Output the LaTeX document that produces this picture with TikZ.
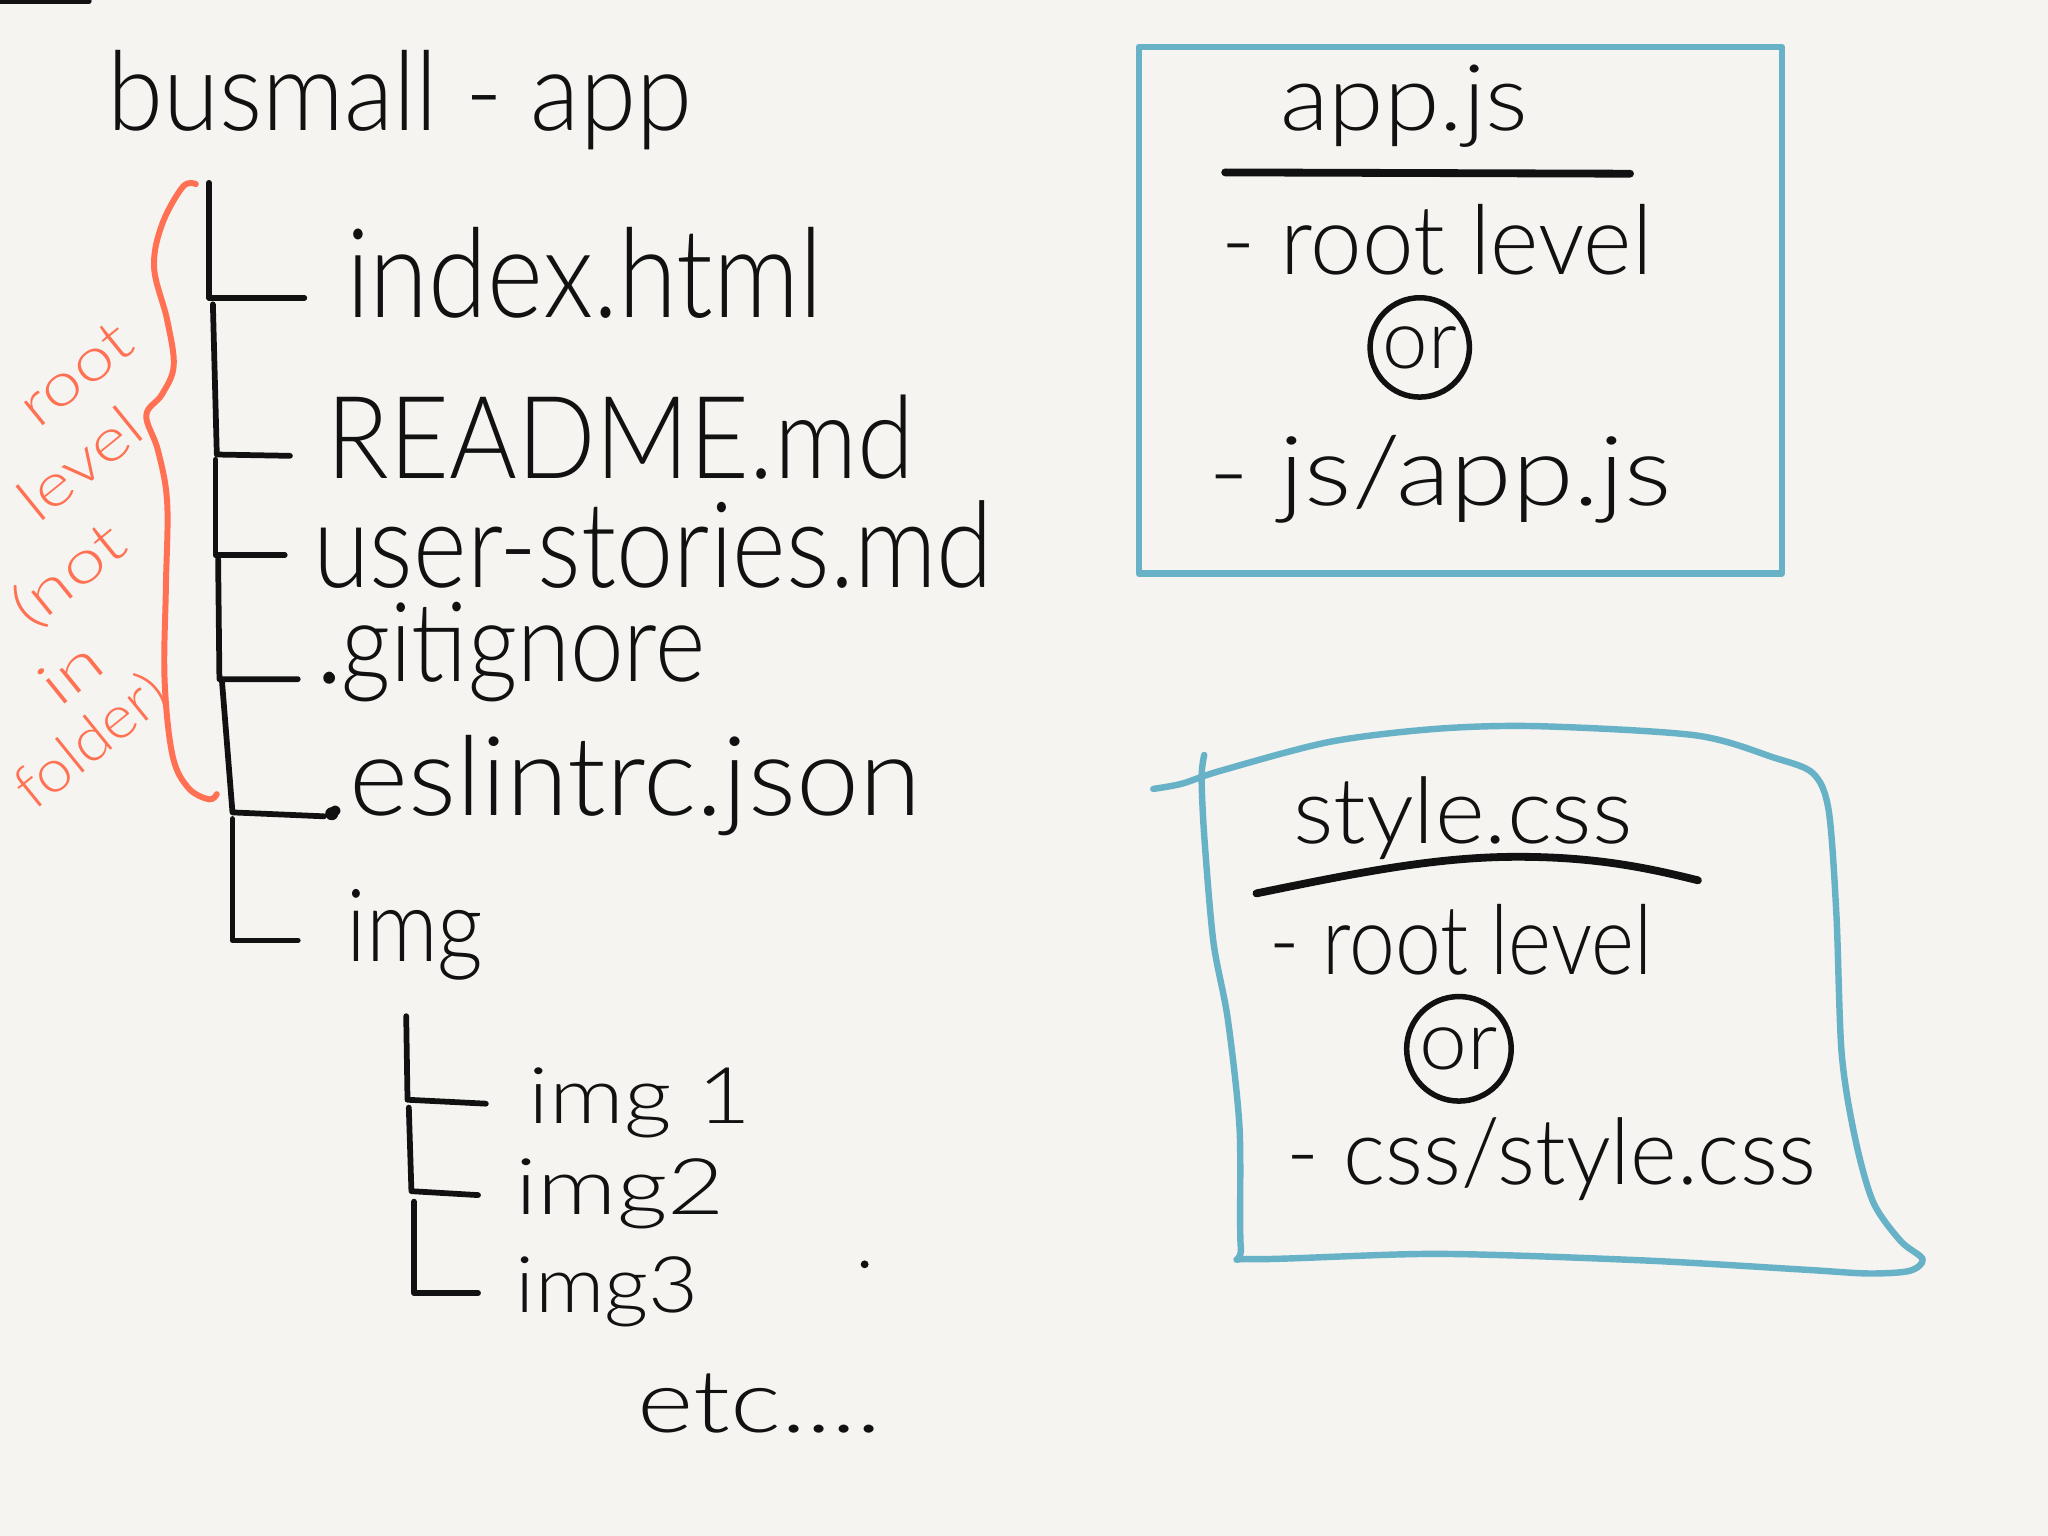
\documentclass[tikz,border=0pt]{standalone}
\usepackage{fontspec}
\usepackage{graphicx}
\IfFontExistsTF{Lato Light}{\setmainfont{Lato Light}}{\setmainfont{Lato}}
\definecolor{bg}{HTML}{F5F4F0}
\definecolor{coral}{HTML}{FF7152}
\definecolor{sky}{HTML}{68B2C8}
\definecolor{ink}{HTML}{111111}
\newlength\upx \setlength\upx{0.01cm}
\newcommand\fitt[3]{\resizebox{#1\upx}{\height}{\fontsize{#2pt}{#2pt}\selectfont #3}}
\tikzset{
  txt/.style={anchor=base west, inner sep=0pt, outer sep=0pt, text=ink},
  lab/.style={anchor=center, inner sep=0pt, outer sep=0pt, text=coral, rotate=39},
  tree/.style={line width=1.25pt, line cap=round, line join=round, draw=ink},
  uline/.style={line width=1.7pt, line cap=round, draw=ink},
  orc/.style={draw=ink, circle, line width=1.2pt, inner sep=0pt, text=ink},
  bluebox/.style={draw=sky, line width=1.4pt, line join=round, line cap=round}
}
\begin{document}
\begin{tikzpicture}[x=0.01cm, y=-0.01cm]
\fill[bg] (0,0) rectangle (1568,1176);
\useasboundingbox (0,0) rectangle (1568,1176);
% stray bar
\coordinate (barA) at (0,1);
\coordinate (barB) at (68,1);
\draw[tree] (barA) -- (barB);

% title
\node[txt] (title) at (82,100) {\fitt{448}{24}{busmall - app}};

% files
\node[txt] (index) at (265,243) {\fitt{365}{27}{index.html}};
\node[txt] (readme) at (250,366) {\fitt{450}{25}{README.md}};
\node[txt] (user) at (240,450) {\fitt{520}{26}{user-stories.md}};
\node[txt] (git) at (244,522) {\fitt{296}{24}{.gitignore}};
\node[txt] (eslint) at (247,624) {\fitt{458}{24}{.eslintrc.json}};
\node[txt] (img) at (265,736) {\fitt{105}{22}{img}};
\node[txt] (img1) at (405,860) {\fitt{170}{17}{img 1}};
\node[txt] (img2) at (395,930) {\fitt{160}{17}{img2}};
\node[txt] (img3) at (395,1005) {\fitt{140}{17}{img3}};
\node[txt] (etc) at (488,1097) {\fitt{187}{19}{etc....}};
\fill[ink] (662,968) circle[radius=0.03cm];
% heavier dots of the hidden files
\fill[ink] (252,519) circle[radius=0.045cm];
\fill[ink] (254,623) circle[radius=0.05cm];

% tree coordinates
\coordinate (t1) at (160,140); \coordinate (c1) at (160,228); \coordinate (e1) at (233,228);
\coordinate (t2) at (163,233); \coordinate (c2) at (166,348); \coordinate (e2) at (222,349);
\coordinate (t3) at (165,352); \coordinate (c3) at (165,425); \coordinate (e3) at (218,425);
\coordinate (t4) at (167,428); \coordinate (c4) at (168,520); \coordinate (e4) at (228,520);
\coordinate (t5) at (170,522); \coordinate (c5) at (178,622); \coordinate (e5) at (248,625);
\coordinate (t6) at (178,627); \coordinate (c6) at (178,720); \coordinate (e6) at (228,720);
\coordinate (t7) at (311,778); \coordinate (c7) at (312,842); \coordinate (e7) at (372,845);
\coordinate (t8) at (313,848); \coordinate (c8) at (315,912); \coordinate (e8) at (366,915);
\coordinate (t9) at (317,920); \coordinate (c9) at (317,990); \coordinate (e9) at (366,990);
\foreach \i in {1,...,9} { \draw[tree] (t\i) -- (c\i) -- (e\i); }

% orange brace and label
\draw[coral, line width=1.3pt, line cap=round, line join=round]
  plot[smooth, tension=0.6] coordinates {(150,141) (140,143) (124,172) (118,205) (128,245) (133,280) (124,302) (112,318) (121,345) (128,385) (127,450) (126,520) (132,578) (144,603) (160,612) (166,608)};
\node[lab] (lroot) at (58,286) {\fitt{98}{13}{root}};
\node[lab] (llevel) at (61,355) {\fitt{108}{13}{level}};
\node[lab] (lnot) at (53,441) {\fitt{98}{13}{(not}};
\node[lab] (lin) at (54,515) {\fitt{48}{13}{in}};
\node[lab] (lfolder) at (70,568) {\fitt{135}{13}{folder)}};

% box 1
\node[bluebox, minimum width=4.92cm, minimum height=4.03cm, inner sep=0pt] (box1) at (1118,237.5) {};
\node[txt] (appjs) at (980,100) {\fitt{190}{20}{app.js}};
\coordinate (u1a) at (938,132); \coordinate (u1b) at (1248,133);
\draw[uline] (u1a) -- (u1b);
\node[txt] (root1) at (935,210) {\fitt{330}{21}{- root level}};
\node[orc, minimum size=0.76cm] (or1) at (1087,266) {\fitt{57}{18}{or}};
\node[txt] (js) at (925,387) {\fitt{355}{21}{- js/app.js}};

% box 2 (wavy)
\draw[bluebox]
  plot[smooth, tension=0.5] coordinates {(883,604) (905,600) (935,590) (1018,568) (1100,558) (1178,556) (1298,563) (1358,580) (1388,592) (1400,620) (1406,700) (1410,806) (1420,870) (1434,920) (1455,950) (1472,964) (1462,973) (1430,975) (1380,972) (1258,965) (1100,960) (958,964) (950,955) (949,863) (940,780) (929,721) (922,640) (920,595) (922,578)};
\node[txt] (stylecss) at (990,646) {\fitt{260}{20}{style.css}};
\coordinate (u2a) at (962,684); \coordinate (u2m) at (1162,656); \coordinate (u2b) at (1300,674);
\draw[uline] (u2a) .. controls (1040,668) and (1100,656) .. (u2m) .. controls (1220,656) and (1260,664) .. (u2b);
\node[txt] (root2) at (972,746) {\fitt{293}{21}{- root level}};
\node[orc, minimum size=0.8cm] (or2) at (1117,803) {\fitt{60}{18}{or}};
\node[txt] (css) at (985,907) {\fitt{405}{20}{- css/style.css}};
\end{tikzpicture}
\end{document}
